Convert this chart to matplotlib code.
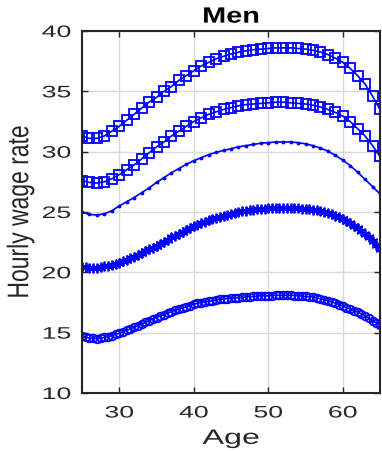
import numpy as np
import matplotlib
matplotlib.use("Agg")
import matplotlib.pyplot as plt
from matplotlib.patheffects import AbstractPathEffect
from matplotlib.transforms import Affine2D

# ---------------- data ----------------
ages_1y = np.arange(25, 66, 1.0)
ages_half = np.arange(25, 65.01, 0.5)

squares_top = [31.3, 31.1, 31.1, 31.3, 31.7, 32.1, 32.6, 33.1, 33.6, 34.1,
               34.5, 35.0, 35.4, 35.9, 36.3, 36.7, 37.1, 37.4, 37.7, 37.9,
               38.1, 38.25, 38.35, 38.45, 38.5, 38.55, 38.6, 38.6, 38.6, 38.55,
               38.5, 38.4, 38.25, 38.05, 37.75, 37.4, 36.9, 36.3, 35.6, 34.6,
               33.5]
squares_mid = [27.6, 27.45, 27.4, 27.5, 27.75, 28.1, 28.5, 28.9, 29.4, 29.9,
               30.4, 30.8, 31.3, 31.7, 32.1, 32.5, 32.8, 33.1, 33.3, 33.5,
               33.65, 33.8, 33.9, 33.95, 34.0, 34.05, 34.1, 34.1, 34.05, 34.0,
               33.95, 33.85, 33.7, 33.5, 33.25, 32.95, 32.5, 31.9, 31.3, 30.5,
               29.6]
dots_line = [25.0, 24.8, 24.75, 24.85, 25.1, 25.5, 25.85, 26.2, 26.6, 27.0,
             27.45, 27.85, 28.25, 28.6, 28.95, 29.25, 29.5, 29.75, 29.95, 30.1,
             30.25, 30.4, 30.5, 30.6, 30.7, 30.75, 30.8, 30.8, 30.8, 30.75,
             30.65, 30.5, 30.3, 30.05, 29.7, 29.3, 28.85, 28.3, 27.7, 27.1,
             26.5]
stars = [20.45, 20.42, 20.4, 20.4, 20.4, 20.45, 20.5, 20.55, 20.6, 20.7,
         20.8, 20.92, 21.05, 21.18, 21.3, 21.45, 21.6, 21.75, 21.9, 22.05,
         22.2, 22.38, 22.55, 22.72, 22.9, 23.05, 23.2, 23.35, 23.5, 23.65,
         23.8, 23.92, 24.05, 24.18, 24.3, 24.4, 24.5, 24.6, 24.7, 24.78,
         24.85, 24.92, 25.0, 25.05, 25.1, 25.15, 25.2, 25.22, 25.25, 25.28,
         25.3, 25.32, 25.35, 25.35, 25.35, 25.35, 25.35, 25.32, 25.3, 25.28,
         25.25, 25.22, 25.2, 25.15, 25.1, 25.02, 24.95, 24.82, 24.7, 24.58,
         24.45, 24.28, 24.1, 23.88, 23.65, 23.42, 23.2, 22.9, 22.6, 22.25,
         21.9]
circles = [14.7, 14.62, 14.55, 14.52, 14.5, 14.54, 14.6, 14.67, 14.75, 14.85,
           14.95, 15.07, 15.2, 15.32, 15.45, 15.57, 15.7, 15.85, 16.0, 16.12,
           16.25, 16.38, 16.5, 16.62, 16.75, 16.85, 16.95, 17.05, 17.15, 17.25,
           17.35, 17.43, 17.5, 17.55, 17.6, 17.65, 17.7, 17.75, 17.8, 17.83,
           17.85, 17.88, 17.9, 17.93, 17.95, 17.98, 18.0, 18.03, 18.05, 18.05,
           18.05, 18.08, 18.1, 18.1, 18.1, 18.1, 18.1, 18.08, 18.05, 18.03,
           18.0, 17.98, 17.95, 17.88, 17.8, 17.73, 17.65, 17.55, 17.45, 17.33,
           17.2, 17.08, 16.95, 16.83, 16.7, 16.55, 16.4, 16.2, 16.0, 15.8,
           15.6]

x_ticks = [30, 40, 50, 60]
y_ticks = [10, 15, 20, 25, 30, 35, 40]
title_text = "Men"
x_label = "Age"
y_label = "Hourly wage rate"


# horizontal stretch of rendered text (the reference text looks widened)
class StretchX(AbstractPathEffect):
    def __init__(self, sx, anchor="center"):
        super().__init__()
        self.sx = sx
        self.anchor = anchor

    def draw_path(self, renderer, gc, tpath, affine, rgbFace=None):
        ext = tpath.transformed(affine).get_extents()
        if self.anchor == "right":
            ax_ = ext.x1
        elif self.anchor == "left":
            ax_ = ext.x0
        else:
            ax_ = 0.5 * (ext.x0 + ext.x1)
        new = affine + Affine2D().translate(-ax_, 0).scale(self.sx, 1).translate(ax_, 0)
        renderer.draw_path(gc, tpath, new, rgbFace)


plt.rcParams["font.family"] = ["Liberation Sans", "DejaVu Sans"]

fig = plt.figure(figsize=(3.82, 4.52), dpi=100)
ax = fig.add_axes([82 / 382, 1 - 394 / 452, 298 / 382, 362 / 452])

blue = "#0000FF"
ax.plot(ages_1y, squares_top, color=blue, lw=1.2, marker="s", ms=7,
        mfc="none", mec=blue, mew=1.3)
ax.plot(ages_1y, squares_mid, color=blue, lw=1.2, marker="s", ms=7,
        mfc="none", mec=blue, mew=1.3)
ax.plot(ages_1y, dots_line, color=blue, lw=1.2, marker=".", ms=3.5,
        mfc=blue, mec=blue)
ax.plot(ages_half, stars, color=blue, lw=1.2, marker=(6, 2, 0), ms=7,
        mfc="none", mec=blue, mew=1.3)
ax.plot(ages_half, circles, color=blue, lw=1.2, marker="o", ms=5.5,
        mfc="none", mec=blue, mew=1.3)

ax.set_xlim(25, 65)
ax.set_ylim(10, 40)
ax.set_xticks(x_ticks)
ax.set_yticks(y_ticks)
ax.grid(True, color="#d9d9d9", lw=1.0)
ax.set_axisbelow(True)
for s in ax.spines.values():
    s.set_color("#262626")
    s.set_linewidth(1.5)
ax.tick_params(direction="in", length=4, width=1.0, color="#262626",
               labelsize=12, labelcolor="#262626", top=True, right=True)
ax.tick_params(axis="y", pad=8)
ax.tick_params(axis="x", pad=9)

for lbl in ax.get_yticklabels():
    lbl.set_path_effects([StretchX(1.6, "right")])
for lbl in ax.get_xticklabels():
    lbl.set_path_effects([StretchX(1.6, "center")])

t = ax.set_title(title_text, fontsize=16, fontweight="bold", pad=6)
t.set_path_effects([StretchX(1.3)])
xl = ax.set_xlabel(x_label, fontsize=15, color="#262626", labelpad=6)
xl.set_path_effects([StretchX(1.55)])
yl = ax.set_ylabel(y_label, fontsize=16.5, color="#262626", labelpad=15)
yl.set_path_effects([StretchX(1.3)])

fig.savefig("out.png", dpi=100)
